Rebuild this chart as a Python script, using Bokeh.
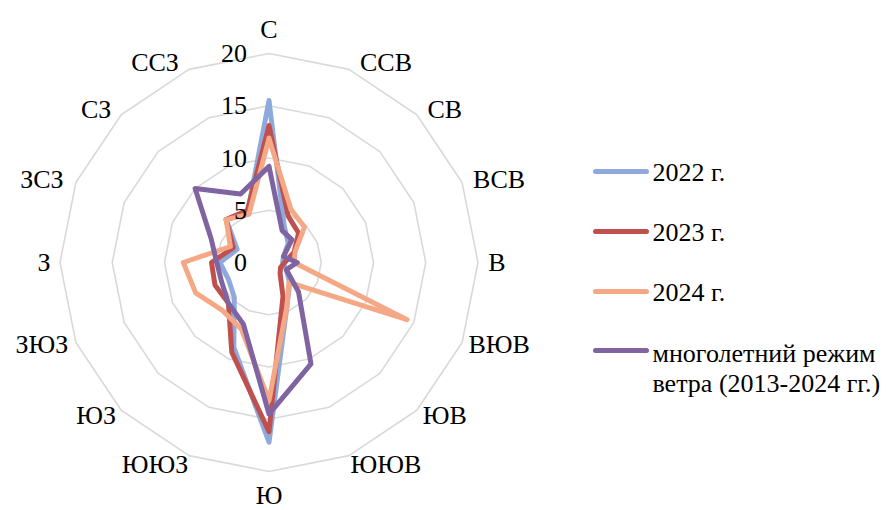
import numpy as np
from bokeh.plotting import figure
from bokeh.models import Range1d
from bokeh.core.properties import value
from bokeh.embed import file_html
from bokeh.resources import INLINE

# Wind directions (clockwise from north) and frequency, %
directions = ["С", "ССВ", "СВ", "ВСВ", "В", "ВЮВ", "ЮВ", "ЮЮВ",
              "Ю", "ЮЮЗ", "ЮЗ", "ЗЮЗ", "З", "ЗСЗ", "СЗ", "ССЗ"]
y2022 = [15.5, 3.8, 2.6, 1.5, 1.3, 1.8, 2.8, 4.5, 17.2, 8.8, 4.7, 4.2, 4.7, 3.3, 5.8, 5.3]
y2023 = [13.1, 4.8, 4.0, 2.6, 1.5, 1.2, 1.5, 3.5, 16.2, 9.3, 5.5, 5.6, 5.5, 3.7, 5.8, 5.4]
y2024 = [11.9, 5.5, 4.8, 2.7, 2.4, 14.3, 2.7, 4.5, 13.2, 6.9, 6.4, 7.6, 8.2, 4.0, 5.8, 5.0]
y_long = [9.2, 3.3, 3.1, 1.5, 2.7, 1.8, 4.0, 10.5, 14.5, 6.4, 5.5, 4.9, 5.0, 6.0, 10.0, 7.1]
ring_ticks = [0, 5, 10, 15, 20]
series_names = ["2022 г.", "2023 г.", "2024 г.", "многолетний режим\nветра (2013-2024 гг.)"]
series_colors = ["#8EA9DB", "#C0504D", "#F5A886", "#8064A2"]

W, H = 890, 510
CX, CY = 268.5, 262.0      # pixel position of the chart centre
SCALE = 10.45              # pixels per percent
FONT = value("'Liberation Serif', 'Times New Roman', serif")
FS = "26px"
CHAR_W = 18.0              # approximate width of a capital letter at FS


def sx(px):
    return (px - CX) / SCALE


def sy(py):
    return (CY - py) / SCALE


n = len(directions)
theta = np.arange(n) * 2 * np.pi / n
sin_t, cos_t = np.sin(theta), np.cos(theta)

p = figure(width=W, height=H, output_backend="svg", toolbar_location=None,
           x_range=Range1d(sx(0), sx(W)), y_range=Range1d(sy(H), sy(0)),
           x_axis_location=None, y_axis_location=None, min_border=0)
p.grid.visible = False
p.outline_line_color = None
p.background_fill_color = "white"
p.border_fill_color = "white"

# concentric 16-gon grid rings
rmax = max(ring_ticks)
for r in ring_ticks[1:]:
    xs = list(r * sin_t) + [r * sin_t[0]]
    ys = list(r * cos_t) + [r * cos_t[0]]
    p.line(xs, ys, line_color="#D9D9D9", line_width=1.6)

# data polygons
for vals, col in zip([y2022, y2023, y2024, y_long], series_colors):
    v = np.array(vals + vals[:1])
    t = np.append(theta, theta[0])
    p.line(v * np.sin(t), v * np.cos(t), line_color=col, line_width=5,
           line_join="round", line_cap="round")

# radial tick labels left of the north spoke
p.text(x=[sx(CX - 22)] * len(ring_ticks), y=ring_ticks,
       text=[str(t) for t in ring_ticks], text_align="right",
       text_baseline="middle", text_font=FONT, text_font_size=FS,
       text_color="black")

# direction labels just outside the outer ring
R_px = rmax * SCALE
lx, ly = [], []
for i, lab in enumerate(directions):
    ex, ey = R_px * sin_t[i], R_px * cos_t[i]       # spoke end, px (y up)
    if abs(sin_t[i]) < 0.1:
        dx, dy = 0.0, (24.0 if cos_t[i] > 0 else -23.5)
    else:
        gap = 10.0 if sin_t[i] > 0 else 7.0
        dx = np.sign(sin_t[i]) * (CHAR_W * len(lab) / 2 + gap)
        dy = 7.5 * cos_t[i] if cos_t[i] > 0 else -11.0 * cos_t[i] ** 2
    lx.append((ex + dx) / SCALE)
    ly.append((ey + dy) / SCALE)
p.text(x=lx, y=ly, text=directions, text_align="center",
       text_baseline="middle", text_font=FONT, text_font_size=FS,
       text_color="black")

# legend: swatch lines and labels (multi-line label split into rows)
leg_y = [171, 231, 291, 350]
for yy, col, name in zip(leg_y, series_colors, series_names):
    p.line([sx(595), sx(646)], [sy(yy), sy(yy)], line_color=col,
           line_width=5, line_cap="round")
    rows = name.split("\n")
    top = yy + (1 if len(rows) == 1 else 3)
    p.text(x=[sx(652)] * len(rows), y=[sy(top + 30 * k) for k in range(len(rows))],
           text=rows, text_align="left", text_baseline="middle",
           text_font=FONT, text_font_size=FS, text_color="black")

open("out.html", "w").write(file_html(p, INLINE))
